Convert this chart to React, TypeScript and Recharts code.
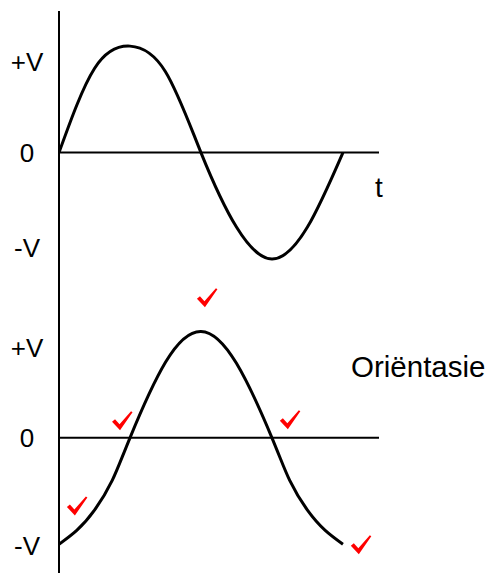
import { ComposedChart, Line, Scatter, XAxis, YAxis, ReferenceLine } from "recharts";

// upper wave: time samples over one period, values in units of V
const topT = [0, 0.125, 0.25, 0.375, 0.5, 0.625, 0.75, 0.875, 1];
const topWave = [0, 0.79, 1, 0.76, 0, -0.7, -1, -0.7, 0];

// lower wave, read a bit finer near the ends
const bottomT = [0, 0.0625, 0.125, 0.1875, 0.25, 0.375, 0.5, 0.625, 0.75, 0.8125, 0.875, 0.9375, 1];
const bottomWave = [-1, -0.87, -0.68, -0.4, 0, 0.71, 1, 0.7, 0, -0.4, -0.68, -0.87, -1];

// the upper graph sits this far above the lower one
const topZero = 2.68;

const tickPositions = [3.53, 2.68, 1.78, 0.845, 0, -1.02];
const tickLabels = ["+V", "0", "-V", "+V", "0", "-V"];

// red ticks placed on the lower graph
const checkT = [0.521, 0.222, 0.813, 0.063, 1.063];
const checkV = [1.315, 0.16, 0.17, -0.64, -1.005];

const topData = topT.map((t, i) => ({ t, v: topZero + topWave[i] }));
const bottomData = bottomT.map((t, i) => ({ t, v: bottomWave[i] }));
const checkData = checkT.map((t, i) => ({ t, v: checkV[i] }));

const FONT = "'Liberation Sans', Arial, sans-serif";

function LabelTick({ y, index }: { y?: number; index?: number }) {
  return (
    <text x={27} y={y} textAnchor="middle" dominantBaseline="central" fontSize={26} fontFamily={FONT} fill="#000">
      {tickLabels[index ?? 0]}
    </text>
  );
}

function CheckMark({ cx, cy }: { cx?: number; cy?: number }) {
  if (cx == null || cy == null) return null;
  return (
    <path
      transform={`translate(${cx},${cy})`}
      d="M-10,1 L-7,-1.5 L-2.5,3.5 L9,-9.5 L10.5,-8.5 L-2,9.5 Z"
      fill="#ff0000"
    />
  );
}

export default function App() {
  return (
    <div style={{ position: "absolute", left: 0, top: 0, width: 492, height: 573, background: "#fff" }}>
      <ComposedChart width={492} height={573} margin={{ top: 11, right: 113, bottom: 0, left: 0 }}>
        <XAxis type="number" dataKey="t" domain={[0, 1.127]} hide allowDataOverflow />
        <YAxis
          type="number"
          domain={[-1.27, 4.01]}
          ticks={tickPositions}
          interval={0}
          width={59}
          allowDataOverflow
          axisLine={{ stroke: "#000", strokeWidth: 2 }}
          tickLine={false}
          tick={<LabelTick />}
        />
        <ReferenceLine y={topZero} stroke="#000" strokeWidth={2} />
        <ReferenceLine y={0} stroke="#000" strokeWidth={2} />
        <Line data={topData} dataKey="v" type="natural" stroke="#000" strokeWidth={3} dot={false} isAnimationActive={false} />
        <Line data={bottomData} dataKey="v" type="natural" stroke="#000" strokeWidth={3} dot={false} isAnimationActive={false} />
        <Scatter data={checkData} dataKey="v" shape={<CheckMark />} isAnimationActive={false} />
      </ComposedChart>
      <div style={{ position: "absolute", left: 375, top: 172, fontSize: 28, fontFamily: FONT, lineHeight: "32px" }}>t</div>
      <div style={{ position: "absolute", left: 351, top: 350, fontSize: 29.5, fontFamily: FONT, lineHeight: "34px" }}>Oriëntasie</div>
    </div>
  );
}
